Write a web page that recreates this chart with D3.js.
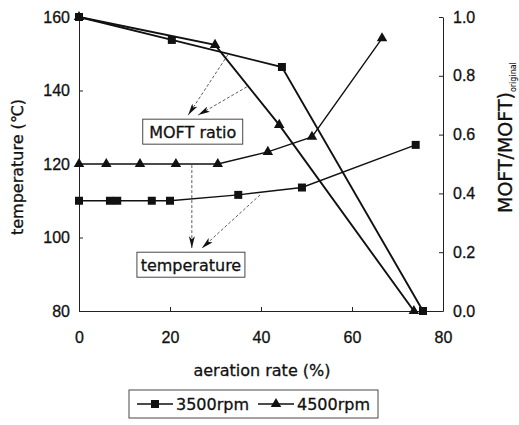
<!DOCTYPE html>
<html>
<head>
<meta charset="utf-8">
<script src="https://cdn.jsdelivr.net/npm/d3@7"></script>
<style>
  body { margin: 0; background: #fff; }
  svg { display: block; font-family: "DejaVu Sans", "Liberation Sans", sans-serif; }
  svg text { stroke: #111; stroke-width: 0.3; }
  .axis path, .axis line { stroke: #222; stroke-width: 1; }
  .axis text { fill: #111; font-size: 16px; }
</style>
</head>
<body>
<svg id="chart" width="519" height="425"></svg>
<script>
// aeration rate (%) for each series
var temp3500X = [0, 6.8, 8.4, 16, 20, 35, 49, 74];
var temp3500Y = [110, 110, 110, 110, 110, 111.6, 113.6, 125.2];
var temp4500X = [0, 6, 13.4, 21.3, 30.5, 41.5, 51.2, 66.6];
var temp4500Y = [120, 120, 120, 120, 120, 123.3, 127.4, 154.2];
var moft3500X = [0, 20.4, 44.6, 75.6];
var moft3500Y = [1.0, 0.922, 0.83, 0];
var moft4500X = [0, 29.9, 44, 73.6];
var moft4500Y = [1.0, 0.905, 0.633, 0];

var xTicks = [0, 20, 40, 60, 80];
var tempTicks = [80, 100, 120, 140, 160];
var ratioTicks = [0, 0.2, 0.4, 0.6, 0.8, 1.0];
var legendNames = ["3500rpm", "4500rpm"];

var svg = d3.select("#chart");

var x = d3.scaleLinear().domain([0, 80]).range([79, 443]);
var yT = d3.scaleLinear().domain([80, 160]).range([311, 17]);
var yR = d3.scaleLinear().domain([0, 1]).range([311, 17]);

// axes, ticks point inward
svg.append("g").attr("class", "axis")
  .attr("transform", "translate(0,311)")
  .call(d3.axisBottom(x).tickValues(xTicks).tickSize(-4).tickPadding(21).tickSizeOuter(0));
svg.append("g").attr("class", "axis")
  .attr("transform", "translate(79,0)")
  .call(d3.axisLeft(yT).tickValues(tempTicks).tickSize(-4).tickPadding(9).tickSizeOuter(0));
svg.append("g").attr("class", "axis")
  .attr("transform", "translate(443,0)")
  .call(d3.axisRight(yR).tickValues(ratioTicks).tickFormat(d3.format(".1f")).tickSize(-4).tickPadding(10).tickSizeOuter(0));
svg.selectAll(".axis .domain").attr("stroke", "#222");

// axis titles
svg.append("text")
  .attr("x", 262).attr("y", 376)
  .attr("text-anchor", "middle").attr("font-size", 16).attr("fill", "#111")
  .text("aeration rate (%)");
svg.append("text")
  .attr("transform", "translate(23,167) rotate(-90)")
  .attr("text-anchor", "middle").attr("font-size", 16).attr("fill", "#111")
  .text("temperature (\u2103)");
var rl = svg.append("text")
  .attr("transform", "translate(512,213) rotate(-90)")
  .attr("font-size", 19).attr("fill", "#111");
rl.append("tspan").text("MOFT/MOFT)");
rl.append("tspan").attr("font-size", 8).attr("dy", 4).attr("stroke-width", 0.1).text("original");

// series
function zip(xs, ys) { return xs.map(function (v, i) { return [v, ys[i]]; }); }
var series = [
  { pts: zip(temp3500X, temp3500Y), y: yT, sym: d3.symbolSquare, size: 64, w: 1.4 },
  { pts: zip(temp4500X, temp4500Y), y: yT, sym: d3.symbolTriangle, size: 48, w: 1.4 },
  { pts: zip(moft3500X, moft3500Y), y: yR, sym: d3.symbolSquare, size: 64, w: 1.9 },
  { pts: zip(moft4500X, moft4500Y), y: yR, sym: d3.symbolTriangle, size: 48, w: 1.9 }
];
series.forEach(function (s) {
  var line = d3.line().x(function (d) { return x(d[0]); }).y(function (d) { return s.y(d[1]); });
  svg.append("path").datum(s.pts)
    .attr("d", line).attr("fill", "none").attr("stroke", "#111").attr("stroke-width", s.w);
  svg.selectAll(null).data(s.pts).enter().append("path")
    .attr("transform", function (d) { return "translate(" + x(d[0]) + "," + s.y(d[1]) + ")"; })
    .attr("d", d3.symbol().type(s.sym).size(s.size)())
    .attr("fill", "#111");
});

// annotations (in aeration / temperature coordinates)
var defs = svg.append("defs");
defs.append("marker").attr("id", "head")
  .attr("viewBox", "0 0 12 6").attr("refX", 12).attr("refY", 3)
  .attr("markerWidth", 12).attr("markerHeight", 6).attr("markerUnits", "userSpaceOnUse")
  .attr("orient", "auto")
  .append("path").attr("d", "M0,0 L12,3 L0,6 L3,3 Z").attr("fill", "#111");

var arrows = [
  [[32.7, 149.7], [24, 133.3]],
  [[36.9, 141], [26.2, 133.3]],
  [[24.8, 119.7], [24.8, 97.1]],
  [[39.8, 111.6], [27, 97.1]]
];
arrows.forEach(function (a) {
  svg.append("line")
    .attr("x1", x(a[0][0])).attr("y1", yT(a[0][1]))
    .attr("x2", x(a[1][0])).attr("y2", yT(a[1][1]))
    .attr("stroke", "#333").attr("stroke-width", 0.8).attr("stroke-dasharray", "3,2")
    .attr("marker-end", "url(#head)");
});

var boxes = [
  { text: "MOFT ratio", cx: 25, cy: 128.8, w: 100, h: 25 },
  { text: "temperature", cx: 24.6, cy: 92.6, w: 108, h: 25 }
];
boxes.forEach(function (b) {
  svg.append("rect")
    .attr("x", x(b.cx) - b.w / 2).attr("y", yT(b.cy) - b.h / 2)
    .attr("width", b.w).attr("height", b.h)
    .attr("fill", "#fff").attr("stroke", "#333").attr("stroke-width", 0.9);
  svg.append("text")
    .attr("x", x(b.cx)).attr("y", yT(b.cy) + 6)
    .attr("text-anchor", "middle").attr("font-size", 16).attr("fill", "#111")
    .text(b.text);
});

// legend
var lg = svg.append("g");
lg.append("rect").attr("x", 129).attr("y", 390).attr("width", 249).attr("height", 28)
  .attr("fill", "#fff").attr("stroke", "#333").attr("stroke-width", 0.9);
var legSyms = [d3.symbolSquare, d3.symbolTriangle];
var legSizes = [64, 48];
var legX = [137, 258];
legendNames.forEach(function (n, i) {
  var lx = legX[i];
  lg.append("line").attr("x1", lx).attr("x2", lx + 36).attr("y1", 404).attr("y2", 404)
    .attr("stroke", "#111").attr("stroke-width", 1.4);
  lg.append("path").attr("transform", "translate(" + (lx + 18) + ",404)")
    .attr("d", d3.symbol().type(legSyms[i]).size(legSizes[i])()).attr("fill", "#111");
  lg.append("text").attr("x", lx + 39).attr("y", 410)
    .attr("font-size", 16).attr("fill", "#111").text(n);
});
</script>
</body>
</html>
